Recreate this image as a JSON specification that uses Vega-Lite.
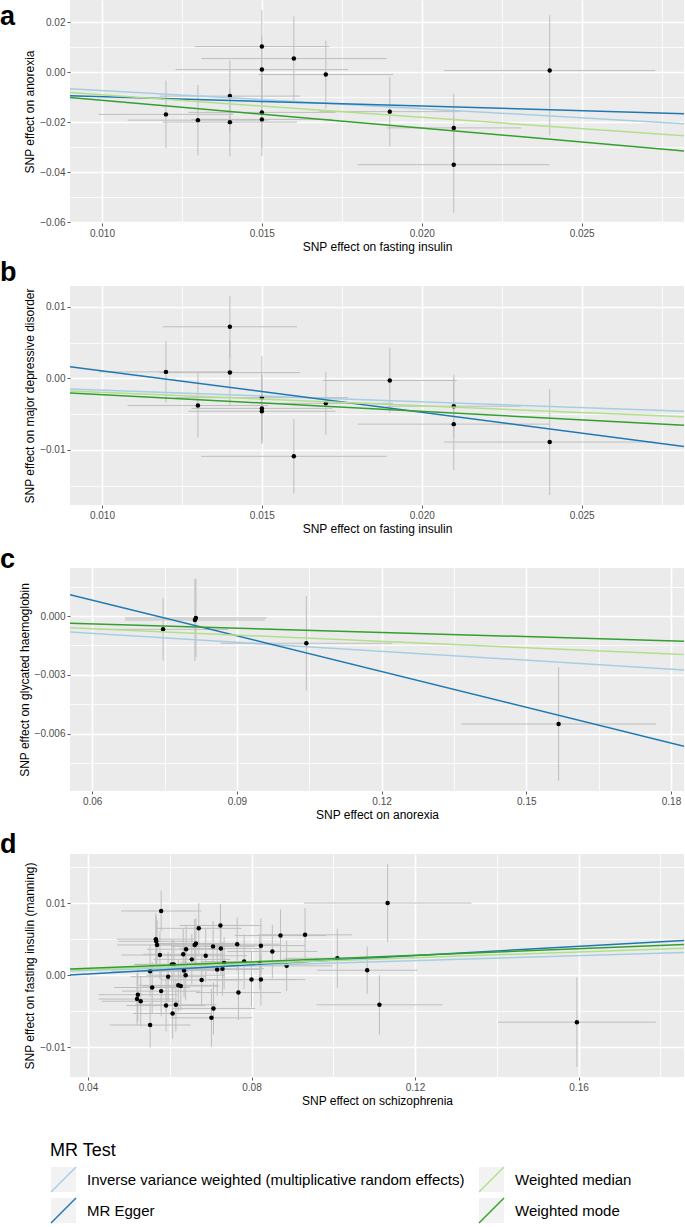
{
  "$schema": "https://vega.github.io/schema/vega-lite/v6.json",
  "padding": 0,
  "background": "white",
  "spacing": 63,
  "bounds": "flush",
  "datasets": {
    "pa": [
      {"x":0.012,"y":-0.0168,"xlo":0.0099,"xhi":0.0141,"ylo":-0.0303,"yhi":-0.0033},
      {"x":0.013,"y":-0.0191,"xlo":0.0108,"xhi":0.0152,"ylo":-0.0332,"yhi":-0.0050},
      {"x":0.014,"y":-0.0095,"xlo":0.0118,"xhi":0.0162,"ylo":-0.0238,"yhi":0.0048},
      {"x":0.014,"y":-0.0199,"xlo":0.0119,"xhi":0.0161,"ylo":-0.0336,"yhi":-0.0062},
      {"x":0.015,"y":0.0103,"xlo":0.0129,"xhi":0.0171,"ylo":-0.0042,"yhi":0.0248},
      {"x":0.015,"y":0.0011,"xlo":0.0123,"xhi":0.0177,"ylo":-0.0125,"yhi":0.0147},
      {"x":0.015,"y":-0.0160,"xlo":0.0127,"xhi":0.0173,"ylo":-0.0302,"yhi":-0.0018},
      {"x":0.015,"y":-0.0188,"xlo":0.0128,"xhi":0.0172,"ylo":-0.0335,"yhi":-0.0041},
      {"x":0.016,"y":0.0055,"xlo":0.0131,"xhi":0.0189,"ylo":-0.0114,"yhi":0.0224},
      {"x":0.017,"y":-0.0009,"xlo":0.0149,"xhi":0.0191,"ylo":-0.0145,"yhi":0.0127},
      {"x":0.019,"y":-0.0157,"xlo":0.0168,"xhi":0.0212,"ylo":-0.0295,"yhi":-0.0019},
      {"x":0.021,"y":-0.0222,"xlo":0.0189,"xhi":0.0231,"ylo":-0.0358,"yhi":-0.0086},
      {"x":0.021,"y":-0.0369,"xlo":0.0180,"xhi":0.0240,"ylo":-0.0561,"yhi":-0.0177},
      {"x":0.024,"y":0.0007,"xlo":0.0207,"xhi":0.0273,"ylo":-0.0252,"yhi":0.0228}
    ],
    "pb": [
      {"x":0.012,"y":0.0009,"xlo":0.0099,"xhi":0.0141,"ylo":-0.0034,"yhi":0.0052},
      {"x":0.014,"y":0.0072,"xlo":0.0119,"xhi":0.0161,"ylo":0.0029,"yhi":0.0115},
      {"x":0.014,"y":0.0008,"xlo":0.0118,"xhi":0.0162,"ylo":-0.0037,"yhi":0.0053},
      {"x":0.013,"y":-0.0038,"xlo":0.0108,"xhi":0.0152,"ylo":-0.0083,"yhi":0.0007},
      {"x":0.015,"y":-0.0027,"xlo":0.0123,"xhi":0.0177,"ylo":-0.0085,"yhi":0.0031},
      {"x":0.015,"y":-0.0042,"xlo":0.0128,"xhi":0.0172,"ylo":-0.0090,"yhi":0.0006},
      {"x":0.015,"y":-0.0046,"xlo":0.0127,"xhi":0.0173,"ylo":-0.0092,"yhi":0.0000},
      {"x":0.016,"y":-0.0109,"xlo":0.0131,"xhi":0.0189,"ylo":-0.0161,"yhi":-0.0057},
      {"x":0.017,"y":-0.0035,"xlo":0.0149,"xhi":0.0191,"ylo":-0.0079,"yhi":0.0009},
      {"x":0.019,"y":-0.0003,"xlo":0.0169,"xhi":0.0211,"ylo":-0.0048,"yhi":0.0042},
      {"x":0.021,"y":-0.0039,"xlo":0.0189,"xhi":0.0231,"ylo":-0.0083,"yhi":0.0005},
      {"x":0.021,"y":-0.0064,"xlo":0.0180,"xhi":0.0240,"ylo":-0.0128,"yhi":0.0000},
      {"x":0.024,"y":-0.0089,"xlo":0.0207,"xhi":0.0273,"ylo":-0.0163,"yhi":-0.0015}
    ],
    "pc": [
      {"x":0.0747,"y":-0.00068,"xlo":0.0612,"xhi":0.0882,"ylo":-0.00228,"yhi":0.00092},
      {"x":0.0815,"y":-0.0001,"xlo":0.0668,"xhi":0.0962,"ylo":-0.0021,"yhi":0.0019},
      {"x":0.0813,"y":-0.0002,"xlo":0.0668,"xhi":0.0958,"ylo":-0.0023,"yhi":0.0019},
      {"x":0.1044,"y":-0.00139,"xlo":0.0866,"xhi":0.1222,"ylo":-0.00379,"yhi":0.00101},
      {"x":0.1567,"y":-0.00551,"xlo":0.1365,"xhi":0.1769,"ylo":-0.00841,"yhi":-0.00261}
    ],
    "pd": [
      {"x":0.0579,"y":0.0089,"xlo":0.0481,"xhi":0.0677,"ylo":0.0061,"yhi":0.0117},
      {"x":0.0566,"y":0.0050,"xlo":0.0471,"xhi":0.0661,"ylo":0.0014,"yhi":0.0086},
      {"x":0.0567,"y":0.0047,"xlo":0.0475,"xhi":0.0659,"ylo":0.0012,"yhi":0.0082},
      {"x":0.0569,"y":0.0042,"xlo":0.0471,"xhi":0.0667,"ylo":0.0008,"yhi":0.0076},
      {"x":0.0576,"y":0.0028,"xlo":0.0482,"xhi":0.0670,"ylo":-0.0005,"yhi":0.0061},
      {"x":0.0671,"y":0.0065,"xlo":0.0566,"xhi":0.0776,"ylo":0.0030,"yhi":0.0100},
      {"x":0.0661,"y":0.0042,"xlo":0.0561,"xhi":0.0761,"ylo":0.0006,"yhi":0.0078},
      {"x":0.0664,"y":0.0044,"xlo":0.0567,"xhi":0.0761,"ylo":0.0009,"yhi":0.0079},
      {"x":0.0640,"y":0.0036,"xlo":0.0544,"xhi":0.0736,"ylo":0.0002,"yhi":0.0070},
      {"x":0.0633,"y":0.0029,"xlo":0.0535,"xhi":0.0731,"ylo":-0.0007,"yhi":0.0065},
      {"x":0.0654,"y":0.0022,"xlo":0.0560,"xhi":0.0748,"ylo":-0.0013,"yhi":0.0057},
      {"x":0.0688,"y":0.0027,"xlo":0.0587,"xhi":0.0789,"ylo":-0.0010,"yhi":0.0064},
      {"x":0.0706,"y":0.0040,"xlo":0.0603,"xhi":0.0809,"ylo":0.0005,"yhi":0.0075},
      {"x":0.0724,"y":0.0069,"xlo":0.0624,"xhi":0.0824,"ylo":0.0039,"yhi":0.0099},
      {"x":0.0605,"y":0.0015,"xlo":0.0512,"xhi":0.0698,"ylo":-0.0020,"yhi":0.0050},
      {"x":0.0610,"y":0.0015,"xlo":0.0514,"xhi":0.0706,"ylo":-0.0019,"yhi":0.0049},
      {"x":0.0552,"y":0.00055,"xlo":0.0457,"xhi":0.0647,"ylo":-0.00305,"yhi":0.00415},
      {"x":0.0635,"y":0.00064,"xlo":0.0537,"xhi":0.0733,"ylo":-0.00306,"yhi":0.00434},
      {"x":0.0639,"y":0.0000,"xlo":0.0543,"xhi":0.0735,"ylo":-0.0035,"yhi":0.0035},
      {"x":0.0596,"y":-0.0002,"xlo":0.0504,"xhi":0.0688,"ylo":-0.0036,"yhi":0.0032},
      {"x":0.0716,"y":0.0008,"xlo":0.0614,"xhi":0.0818,"ylo":-0.0028,"yhi":0.0044},
      {"x":0.0678,"y":-0.00065,"xlo":0.0579,"xhi":0.0777,"ylo":-0.00415,"yhi":0.00285},
      {"x":0.0621,"y":-0.0014,"xlo":0.0524,"xhi":0.0718,"ylo":-0.0050,"yhi":0.0022},
      {"x":0.0627,"y":-0.0015,"xlo":0.0533,"xhi":0.0721,"ylo":-0.0049,"yhi":0.0019},
      {"x":0.0557,"y":-0.0017,"xlo":0.0464,"xhi":0.0650,"ylo":-0.0052,"yhi":0.0018},
      {"x":0.0579,"y":-0.0022,"xlo":0.0483,"xhi":0.0675,"ylo":-0.0057,"yhi":0.0013},
      {"x":0.0522,"y":-0.0027,"xlo":0.0426,"xhi":0.0618,"ylo":-0.0064,"yhi":0.0010},
      {"x":0.0520,"y":-0.0033,"xlo":0.0426,"xhi":0.0614,"ylo":-0.0069,"yhi":0.0003},
      {"x":0.0529,"y":-0.0036,"xlo":0.0434,"xhi":0.0624,"ylo":-0.0071,"yhi":-0.0001},
      {"x":0.0591,"y":-0.0042,"xlo":0.0494,"xhi":0.0688,"ylo":-0.0078,"yhi":-0.0006},
      {"x":0.0615,"y":-0.0041,"xlo":0.0516,"xhi":0.0714,"ylo":-0.0078,"yhi":-0.0004},
      {"x":0.0607,"y":-0.0053,"xlo":0.0511,"xhi":0.0703,"ylo":-0.0088,"yhi":-0.0018},
      {"x":0.0552,"y":-0.0069,"xlo":0.0453,"xhi":0.0651,"ylo":-0.0100,"yhi":-0.0038},
      {"x":0.0707,"y":-0.0046,"xlo":0.0605,"xhi":0.0809,"ylo":-0.0082,"yhi":-0.0010},
      {"x":0.0702,"y":-0.0059,"xlo":0.0602,"xhi":0.0802,"ylo":-0.0099,"yhi":-0.0019},
      {"x":0.0725,"y":0.0037,"xlo":0.0624,"xhi":0.0826,"ylo":0.0001,"yhi":0.0073},
      {"x":0.0765,"y":0.0043,"xlo":0.0661,"xhi":0.0869,"ylo":0.0006,"yhi":0.0080},
      {"x":0.0823,"y":0.0041,"xlo":0.0715,"xhi":0.0931,"ylo":0.0003,"yhi":0.0079},
      {"x":0.0871,"y":0.0055,"xlo":0.0759,"xhi":0.0983,"ylo":0.0019,"yhi":0.0091},
      {"x":0.0931,"y":0.0056,"xlo":0.0816,"xhi":0.1046,"ylo":0.0019,"yhi":0.0093},
      {"x":0.0851,"y":0.0033,"xlo":0.0741,"xhi":0.0961,"ylo":-0.0004,"yhi":0.0070},
      {"x":0.0733,"y":0.0017,"xlo":0.0630,"xhi":0.0836,"ylo":-0.0019,"yhi":0.0053},
      {"x":0.0782,"y":0.0019,"xlo":0.0677,"xhi":0.0887,"ylo":-0.0019,"yhi":0.0057},
      {"x":0.0820,"y":0.0017,"xlo":0.0712,"xhi":0.0928,"ylo":-0.0020,"yhi":0.0054},
      {"x":0.0886,"y":0.0013,"xlo":0.0773,"xhi":0.0999,"ylo":-0.0022,"yhi":0.0048},
      {"x":0.0729,"y":0.0009,"xlo":0.0627,"xhi":0.0831,"ylo":-0.0028,"yhi":0.0046},
      {"x":0.0800,"y":-0.0006,"xlo":0.0694,"xhi":0.0906,"ylo":-0.0044,"yhi":0.0032},
      {"x":0.0823,"y":-0.0006,"xlo":0.0715,"xhi":0.0931,"ylo":-0.0042,"yhi":0.0030},
      {"x":0.0768,"y":-0.0024,"xlo":0.0664,"xhi":0.0872,"ylo":-0.0062,"yhi":0.0014},
      {"x":0.1133,"y":0.0100,"xlo":0.0928,"xhi":0.1338,"ylo":0.0046,"yhi":0.0154},
      {"x":0.1010,"y":0.00235,"xlo":0.0880,"xhi":0.1140,"ylo":-0.00175,"yhi":0.00645},
      {"x":0.1083,"y":0.0007,"xlo":0.0960,"xhi":0.1206,"ylo":-0.0026,"yhi":0.0040},
      {"x":0.1113,"y":-0.0041,"xlo":0.0959,"xhi":0.1267,"ylo":-0.0082,"yhi":0.0000},
      {"x":0.1596,"y":-0.0065,"xlo":0.1403,"xhi":0.1789,"ylo":-0.0127,"yhi":-0.0003}
    ],
    "la": [
      {"method":"Inverse variance weighted (multiplicative random effects)","x":0.009,"y":-0.00654},
      {"method":"Inverse variance weighted (multiplicative random effects)","x":0.0282,"y":-0.0205},
      {"method":"MR Egger","x":0.009,"y":-0.00937},
      {"method":"MR Egger","x":0.0282,"y":-0.01653},
      {"method":"Weighted median","x":0.009,"y":-0.0081},
      {"method":"Weighted median","x":0.0282,"y":-0.02538},
      {"method":"Weighted mode","x":0.009,"y":-0.01003},
      {"method":"Weighted mode","x":0.0282,"y":-0.03141}
    ],
    "lb": [
      {"method":"Inverse variance weighted (multiplicative random effects)","x":0.009,"y":-0.0015},
      {"method":"Inverse variance weighted (multiplicative random effects)","x":0.0282,"y":-0.0046},
      {"method":"MR Egger","x":0.009,"y":0.00162},
      {"method":"MR Egger","x":0.0282,"y":-0.00951},
      {"method":"Weighted median","x":0.009,"y":-0.00176},
      {"method":"Weighted median","x":0.0282,"y":-0.00538},
      {"method":"Weighted mode","x":0.009,"y":-0.00204},
      {"method":"Weighted mode","x":0.0282,"y":-0.00654}
    ],
    "lc": [
      {"method":"Inverse variance weighted (multiplicative random effects)","x":0.0554,"y":-0.00082},
      {"method":"Inverse variance weighted (multiplicative random effects)","x":0.1827,"y":-0.00275},
      {"method":"MR Egger","x":0.0554,"y":0.00109},
      {"method":"MR Egger","x":0.1827,"y":-0.00665},
      {"method":"Weighted median","x":0.0554,"y":-0.0006},
      {"method":"Weighted median","x":0.1827,"y":-0.00197},
      {"method":"Weighted mode","x":0.0554,"y":-0.00037},
      {"method":"Weighted mode","x":0.1827,"y":-0.00129}
    ],
    "ld": [
      {"method":"Inverse variance weighted (multiplicative random effects)","x":0.0356,"y":0.00058},
      {"method":"Inverse variance weighted (multiplicative random effects)","x":0.1858,"y":0.00315},
      {"method":"MR Egger","x":0.0356,"y":0.00005},
      {"method":"MR Egger","x":0.1858,"y":0.00482},
      {"method":"Weighted median","x":0.0356,"y":0.00073},
      {"method":"Weighted median","x":0.1858,"y":0.00375},
      {"method":"Weighted mode","x":0.0356,"y":0.00085},
      {"method":"Weighted mode","x":0.1858,"y":0.00425}
    ]
  },
  "vconcat": [
    {
      "width": 614, "height": 223,
      "title": {"text": "a", "dy": 35},
      "layer": [
        {"data": {"name": "pa"}, "mark": {"type": "rule", "color": "#BEBEBE", "strokeWidth": 1},
         "encoding": {
           "x": {"field": "xlo", "type": "quantitative", "scale": {"domain": [0.009, 0.0282], "nice": false, "zero": false},
                 "axis": {"title": "SNP effect on fasting insulin", "tickCount": 50, "values": [0.01,0.015,0.02,0.025,0.0125,0.0175,0.0225,0.0275], "format": ".3f",
                          "labelExpr": "abs(datum.value/0.005-round(datum.value/0.005))<0.01 ? datum.label : ''",
                          "gridWidth": {"condition": {"test": "abs(datum.value/0.005-round(datum.value/0.005))<0.01", "value": 1.6}, "value": 0.8},
                          "tickOpacity": {"condition": {"test": "abs(datum.value/0.005-round(datum.value/0.005))<0.01", "value": 1}, "value": 0}}},
           "x2": {"field": "xhi"},
           "y": {"field": "y", "type": "quantitative", "scale": {"domain": [-0.0602, 0.0289], "nice": false, "zero": false},
                 "axis": {"title": "SNP effect on anorexia", "tickCount": 50, "values": [-0.06,-0.04,-0.02,0,0.02,-0.05,-0.03,-0.01,0.01], "format": ".2f",
                          "labelExpr": "abs(datum.value/0.02-round(datum.value/0.02))<0.01 ? datum.label : ''",
                          "gridWidth": {"condition": {"test": "abs(datum.value/0.02-round(datum.value/0.02))<0.01", "value": 1.6}, "value": 0.8},
                          "tickOpacity": {"condition": {"test": "abs(datum.value/0.02-round(datum.value/0.02))<0.01", "value": 1}, "value": 0}}}
         }},
        {"data": {"name": "pa"}, "mark": {"type": "rule", "color": "#BEBEBE", "strokeWidth": 1},
         "encoding": {"x": {"field": "x", "type": "quantitative"}, "y": {"field": "ylo", "type": "quantitative"}, "y2": {"field": "yhi"}}},
        {"data": {"name": "pa"}, "mark": {"type": "circle", "color": "#000000", "size": 20, "opacity": 1},
         "encoding": {"x": {"field": "x", "type": "quantitative"}, "y": {"field": "y", "type": "quantitative"}}},
        {"data": {"name": "la"}, "transform": [{"filter": "false"}],
         "mark": {"type": "point", "filled": true, "color": "#F2F2F2", "opacity": 1},
         "encoding": {"x": {"field": "x", "type": "quantitative"}, "y": {"field": "y", "type": "quantitative"},
           "shape": {"field": "method", "type": "nominal",
             "scale": {"domain": ["Inverse variance weighted (multiplicative random effects)", "MR Egger", "Weighted median ", "Weighted mode"], "range": ["square","square","square","square"]},
             "legend": {"title": "MR Test", "orient": "none", "legendX": -20, "legendY": 1142, "columns": 2,
                        "symbolSize": 625, "symbolStrokeWidth": 1.5, "symbolFillColor": "#F2F2F2", "symbolStrokeColor": "#F2F2F2",
                        "labelFont": "Liberation Sans", "labelFontSize": 15, "labelColor": "transparent", "labelOffset": 10, "labelLimit": 1000,
                        "titleFont": "Liberation Sans", "titleFontSize": 18, "titleFontWeight": "normal", "titleColor": "transparent", "titlePadding": 6,
                        "rowPadding": 0, "columnPadding": 11, "zindex": 1}}}},
        {"data": {"name": "la"}, "mark": {"type": "line", "strokeWidth": 1.5, "clip": true},
         "encoding": {"x": {"field": "x", "type": "quantitative"}, "y": {"field": "y", "type": "quantitative"},
           "color": {"field": "method", "type": "nominal",
             "scale": {"domain": ["Inverse variance weighted (multiplicative random effects)", "MR Egger", "Weighted median", "Weighted mode"], "range": ["#A6CEE3", "#1F78B4", "#B2DF8A", "#33A02C"]},
             "legend": {"title": "MR Test", "orient": "none", "legendX": -20, "legendY": 1142, "columns": 2,
                        "symbolType": "M-1,1L1,-1", "symbolSize": 625, "symbolStrokeWidth": 1.5,
                        "labelFont": "Liberation Sans", "labelFontSize": 15, "labelColor": "#000000", "labelOffset": 10, "labelLimit": 1000,
                        "titleFont": "Liberation Sans", "titleFontSize": 18, "titleFontWeight": "normal", "titleColor": "#000000", "titlePadding": 6,
                        "rowPadding": 0, "columnPadding": 11, "zindex": 2}}}}
      ]
    },
    {
      "width": 614, "height": 219,
      "title": {"text": "b", "dy": 5},
      "layer": [
        {"data": {"name": "pb"}, "mark": {"type": "rule", "color": "#BEBEBE", "strokeWidth": 1},
         "encoding": {
           "x": {"field": "xlo", "type": "quantitative", "scale": {"domain": [0.009, 0.0282], "nice": false, "zero": false},
                 "axis": {"title": "SNP effect on fasting insulin", "tickCount": 50, "values": [0.01,0.015,0.02,0.025,0.0125,0.0175,0.0225,0.0275], "format": ".3f",
                          "labelExpr": "abs(datum.value/0.005-round(datum.value/0.005))<0.01 ? datum.label : ''",
                          "gridWidth": {"condition": {"test": "abs(datum.value/0.005-round(datum.value/0.005))<0.01", "value": 1.6}, "value": 0.8},
                          "tickOpacity": {"condition": {"test": "abs(datum.value/0.005-round(datum.value/0.005))<0.01", "value": 1}, "value": 0}}},
           "x2": {"field": "xhi"},
           "y": {"field": "y", "type": "quantitative", "scale": {"domain": [-0.0177, 0.0129], "nice": false, "zero": false},
                 "axis": {"title": "SNP effect on major depressive disorder", "tickCount": 50, "values": [-0.01,0,0.01,-0.015,-0.005,0.005], "format": ".2f",
                          "labelExpr": "abs(datum.value/0.01-round(datum.value/0.01))<0.01 ? datum.label : ''",
                          "gridWidth": {"condition": {"test": "abs(datum.value/0.01-round(datum.value/0.01))<0.01", "value": 1.6}, "value": 0.8},
                          "tickOpacity": {"condition": {"test": "abs(datum.value/0.01-round(datum.value/0.01))<0.01", "value": 1}, "value": 0}}}
         }},
        {"data": {"name": "pb"}, "mark": {"type": "rule", "color": "#BEBEBE", "strokeWidth": 1},
         "encoding": {"x": {"field": "x", "type": "quantitative"}, "y": {"field": "ylo", "type": "quantitative"}, "y2": {"field": "yhi"}}},
        {"data": {"name": "pb"}, "mark": {"type": "circle", "color": "#000000", "size": 20, "opacity": 1},
         "encoding": {"x": {"field": "x", "type": "quantitative"}, "y": {"field": "y", "type": "quantitative"}}},
        {"data": {"name": "lb"}, "mark": {"type": "line", "strokeWidth": 1.5, "clip": true},
         "encoding": {"x": {"field": "x", "type": "quantitative"}, "y": {"field": "y", "type": "quantitative"},
           "color": {"field": "method", "type": "nominal",
             "scale": {"domain": ["Inverse variance weighted (multiplicative random effects)", "MR Egger", "Weighted median", "Weighted mode"], "range": ["#A6CEE3", "#1F78B4", "#B2DF8A", "#33A02C"]},
             "legend": {"title": "MR Test", "orient": "none", "legendX": -20, "legendY": 1142, "columns": 2,
                        "symbolType": "M-1,1L1,-1", "symbolSize": 625, "symbolStrokeWidth": 1.5,
                        "labelFont": "Liberation Sans", "labelFontSize": 15, "labelColor": "#000000", "labelOffset": 10, "labelLimit": 1000,
                        "titleFont": "Liberation Sans", "titleFontSize": 18, "titleFontWeight": "normal", "titleColor": "#000000", "titlePadding": 6,
                        "rowPadding": 0, "columnPadding": 11, "zindex": 2}}}}
      ]
    },
    {
      "width": 614, "height": 223,
      "title": {"text": "c", "dy": 10},
      "layer": [
        {"data": {"name": "pc"}, "mark": {"type": "rule", "color": "#BEBEBE", "strokeWidth": 1},
         "encoding": {
           "x": {"field": "xlo", "type": "quantitative", "scale": {"domain": [0.0554, 0.1827], "nice": false, "zero": false},
                 "axis": {"title": "SNP effect on anorexia", "tickCount": 50, "values": [0.06,0.09,0.12,0.15,0.18,0.075,0.105,0.135,0.165], "format": ".2f",
                          "labelExpr": "abs(datum.value/0.03-round(datum.value/0.03))<0.01 ? datum.label : ''",
                          "gridWidth": {"condition": {"test": "abs(datum.value/0.03-round(datum.value/0.03))<0.01", "value": 1.6}, "value": 0.8},
                          "tickOpacity": {"condition": {"test": "abs(datum.value/0.03-round(datum.value/0.03))<0.01", "value": 1}, "value": 0}}},
           "x2": {"field": "xhi"},
           "y": {"field": "y", "type": "quantitative", "scale": {"domain": [-0.00893, 0.00245], "nice": false, "zero": false},
                 "axis": {"title": "SNP effect on glycated haemoglobin", "tickCount": 50, "values": [-0.006,-0.003,0,-0.0075,-0.0045,-0.0015,0.0015], "format": ".3f",
                          "labelExpr": "abs(datum.value/0.003-round(datum.value/0.003))<0.01 ? datum.label : ''",
                          "gridWidth": {"condition": {"test": "abs(datum.value/0.003-round(datum.value/0.003))<0.01", "value": 1.6}, "value": 0.8},
                          "tickOpacity": {"condition": {"test": "abs(datum.value/0.003-round(datum.value/0.003))<0.01", "value": 1}, "value": 0}}}
         }},
        {"data": {"name": "pc"}, "mark": {"type": "rule", "color": "#BEBEBE", "strokeWidth": 1},
         "encoding": {"x": {"field": "x", "type": "quantitative"}, "y": {"field": "ylo", "type": "quantitative"}, "y2": {"field": "yhi"}}},
        {"data": {"name": "pc"}, "mark": {"type": "circle", "color": "#000000", "size": 20, "opacity": 1},
         "encoding": {"x": {"field": "x", "type": "quantitative"}, "y": {"field": "y", "type": "quantitative"}}},
        {"data": {"name": "lc"}, "mark": {"type": "line", "strokeWidth": 1.5, "clip": true},
         "encoding": {"x": {"field": "x", "type": "quantitative"}, "y": {"field": "y", "type": "quantitative"},
           "color": {"field": "method", "type": "nominal",
             "scale": {"domain": ["Inverse variance weighted (multiplicative random effects)", "MR Egger", "Weighted median", "Weighted mode"], "range": ["#A6CEE3", "#1F78B4", "#B2DF8A", "#33A02C"]},
             "legend": {"title": "MR Test", "orient": "none", "legendX": -20, "legendY": 1142, "columns": 2,
                        "symbolType": "M-1,1L1,-1", "symbolSize": 625, "symbolStrokeWidth": 1.5,
                        "labelFont": "Liberation Sans", "labelFontSize": 15, "labelColor": "#000000", "labelOffset": 10, "labelLimit": 1000,
                        "titleFont": "Liberation Sans", "titleFontSize": 18, "titleFontWeight": "normal", "titleColor": "#000000", "titlePadding": 6,
                        "rowPadding": 0, "columnPadding": 11, "zindex": 2}}}}
      ]
    },
    {
      "width": 614, "height": 223,
      "title": {"text": "d", "dy": 9},
      "layer": [
        {"data": {"name": "pd"}, "mark": {"type": "rule", "color": "#BEBEBE", "strokeWidth": 1},
         "encoding": {
           "x": {"field": "xlo", "type": "quantitative", "scale": {"domain": [0.0356, 0.1858], "nice": false, "zero": false},
                 "axis": {"title": "SNP effect on schizophrenia", "tickCount": 50, "values": [0.04,0.08,0.12,0.16,0.06,0.1,0.14,0.18], "format": ".2f",
                          "labelExpr": "abs(datum.value/0.04-round(datum.value/0.04))<0.01 ? datum.label : ''",
                          "gridWidth": {"condition": {"test": "abs(datum.value/0.04-round(datum.value/0.04))<0.01", "value": 1.6}, "value": 0.8},
                          "tickOpacity": {"condition": {"test": "abs(datum.value/0.04-round(datum.value/0.04))<0.01", "value": 1}, "value": 0}}},
           "x2": {"field": "xhi"},
           "y": {"field": "y", "type": "quantitative", "scale": {"domain": [-0.0141, 0.0168], "nice": false, "zero": false},
                 "axis": {"title": "SNP effect on fasting insulin (manning)", "tickCount": 50, "values": [-0.01,0,0.01,-0.005,0.005,0.015], "format": ".2f",
                          "labelExpr": "abs(datum.value/0.01-round(datum.value/0.01))<0.01 ? datum.label : ''",
                          "gridWidth": {"condition": {"test": "abs(datum.value/0.01-round(datum.value/0.01))<0.01", "value": 1.6}, "value": 0.8},
                          "tickOpacity": {"condition": {"test": "abs(datum.value/0.01-round(datum.value/0.01))<0.01", "value": 1}, "value": 0}}}
         }},
        {"data": {"name": "pd"}, "mark": {"type": "rule", "color": "#BEBEBE", "strokeWidth": 1},
         "encoding": {"x": {"field": "x", "type": "quantitative"}, "y": {"field": "ylo", "type": "quantitative"}, "y2": {"field": "yhi"}}},
        {"data": {"name": "pd"}, "mark": {"type": "circle", "color": "#000000", "size": 20, "opacity": 1},
         "encoding": {"x": {"field": "x", "type": "quantitative"}, "y": {"field": "y", "type": "quantitative"}}},
        {"data": {"name": "ld"}, "mark": {"type": "line", "strokeWidth": 1.5, "clip": true},
         "encoding": {"x": {"field": "x", "type": "quantitative"}, "y": {"field": "y", "type": "quantitative"},
           "color": {"field": "method", "type": "nominal",
             "scale": {"domain": ["Inverse variance weighted (multiplicative random effects)", "MR Egger", "Weighted median", "Weighted mode"], "range": ["#A6CEE3", "#1F78B4", "#B2DF8A", "#33A02C"]},
             "legend": {"title": "MR Test", "orient": "none", "legendX": -20, "legendY": 1142, "columns": 2,
                        "symbolType": "M-1,1L1,-1", "symbolSize": 625, "symbolStrokeWidth": 1.5,
                        "labelFont": "Liberation Sans", "labelFontSize": 15, "labelColor": "#000000", "labelOffset": 10, "labelLimit": 1000,
                        "titleFont": "Liberation Sans", "titleFontSize": 18, "titleFontWeight": "normal", "titleColor": "#000000", "titlePadding": 6,
                        "rowPadding": 0, "columnPadding": 11, "zindex": 2}}}}
      ]
    }
  ],
  "config": {
    "view": {"fill": "#EBEBEB", "stroke": null},
    "font": "Liberation Sans",
    "axis": {"domain": false, "tickColor": "#333333", "tickSize": 3, "tickWidth": 0.8,
             "labelFont": "Liberation Sans", "labelFontSize": 10, "labelColor": "#4D4D4D", "labelPadding": 2,
             "titleFont": "Liberation Sans", "titleFontSize": 12, "titleFontWeight": "normal", "titleColor": "#000000", "titlePadding": 3,
             "gridColor": "#FFFFFF", "labelFlush": false, "labelOverlap": false},
    "title": {"anchor": "start", "frame": "group", "orient": "top", "offset": 0, "fontSize": 27, "fontWeight": "bold",
              "font": "Liberation Sans", "color": "#000000", "baseline": "alphabetic", "dx": -70}
  }
}
